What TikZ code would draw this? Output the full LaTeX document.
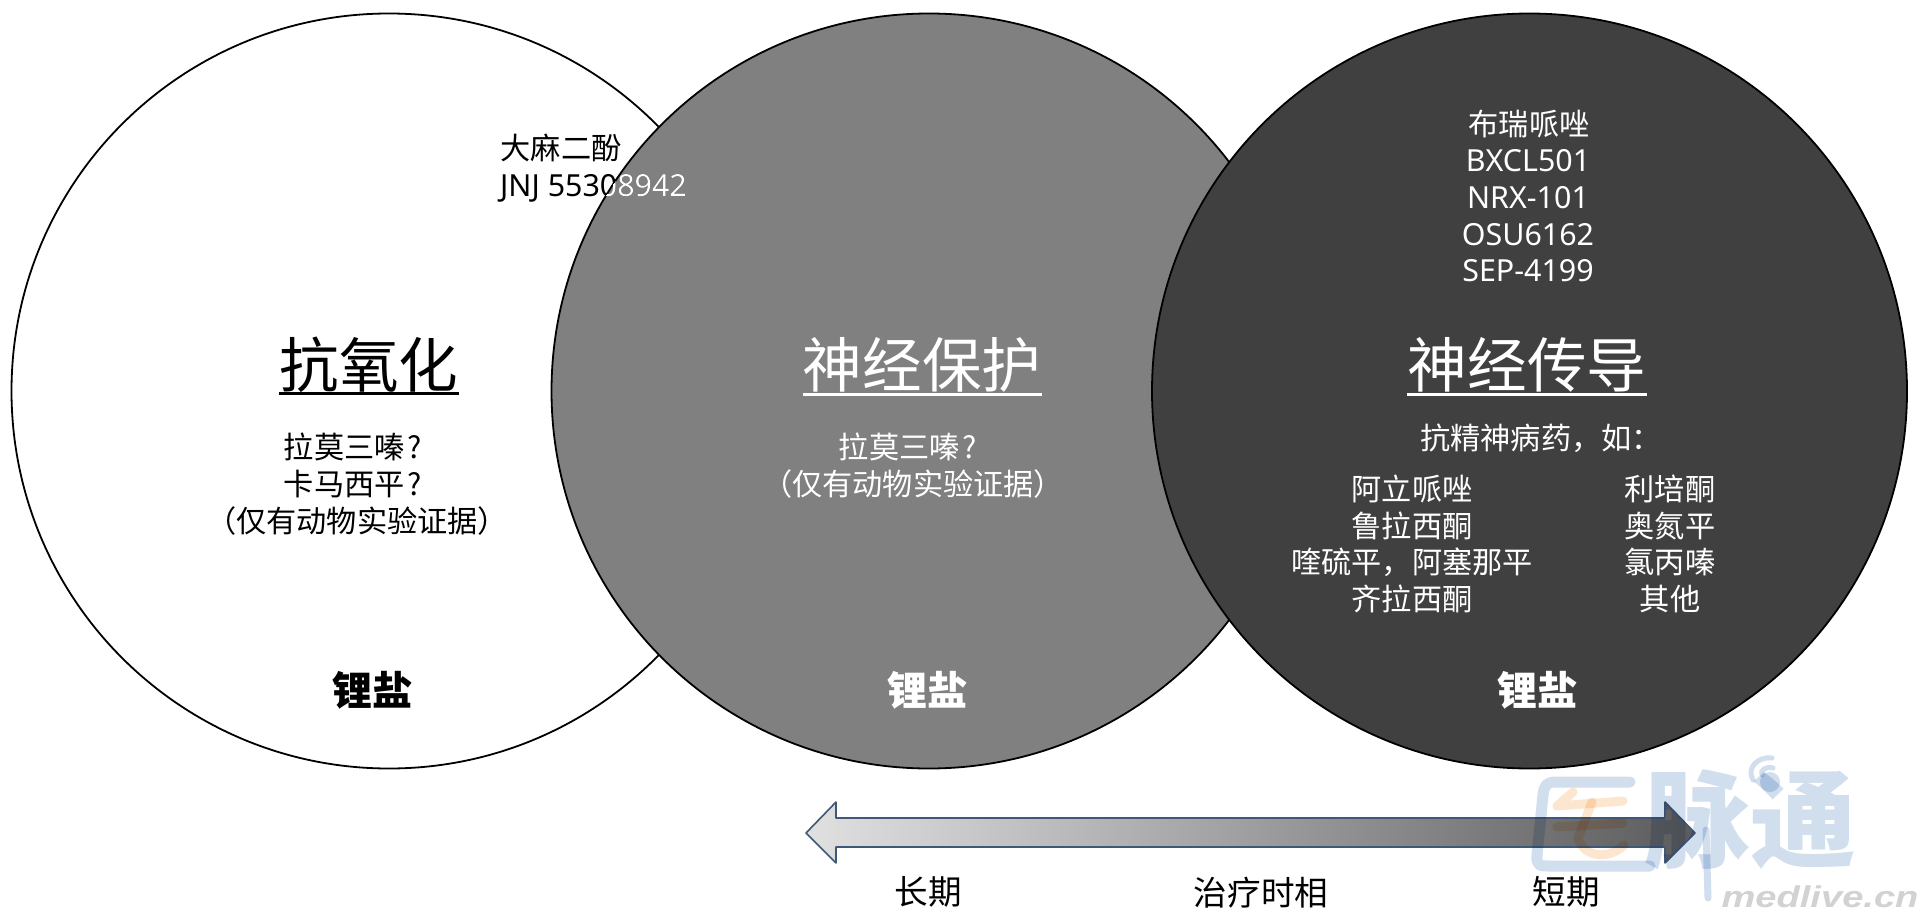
\documentclass[tikz,border=0pt]{standalone}
\usepackage{fontspec}
\setmainfont{Noto Sans CJK SC}
\newfontfamily\latinf{Noto Sans}
\newfontfamily\wmlatin{Liberation Sans}
\usetikzlibrary{arrows.meta}
\definecolor{wmblue}{HTML}{D0DEEE}
\definecolor{wmorange}{HTML}{FDE6CF}
\definecolor{wmgrey}{HTML}{D2D2D2}
\definecolor{arrowline}{HTML}{3F5878}
\tikzset{
  x=1pt,y=-1pt,
  disc/.style={draw=black,line width=1.8pt},
  body/.style={inner sep=0pt,align=center,font=\fontsize{30.2}{36.7}\selectfont},
  latin/.style={inner sep=0pt,align=center,font=\latinf\fontsize{30.4}{36.7}\selectfont},
  heading/.style={inner sep=0pt,font=\fontsize{59.6}{62}\selectfont},
  rule/.style={line width=3pt},
  salt/.style={inner sep=0pt,font=\fontsize{40}{41}\selectfont\bfseries},
  phase/.style={inner sep=0pt,font=\fontsize{33.6}{35}\selectfont},
  wmstroke/.style={draw=wmblue,line width=11pt,line cap=round,line join=round},
  wmo/.style={draw=wmorange,line width=9pt,line cap=round,line join=round},
  wmarc/.style={draw=wmblue,line width=5pt,line cap=round},
}
\begin{document}
\begin{tikzpicture}
\useasboundingbox (0,0) rectangle (1925,920);
\fill[white] (0,0) rectangle (1925,920);
% discs
\draw[disc,fill=white] (389,391) circle (377.5);
\draw[disc,fill=black!50] (929,391) circle (377.5);
\node[latin,text=black] (jnj) at (593.5,188) {JNJ 55308942};
\begin{scope}
\clip (929,391) circle (377.5);
\node[latin,text=white] (jnjB) at (593.5,188) {JNJ 55308942};
\end{scope}
\draw[disc,fill=black!75] (1529.5,391) circle (377.5);
% left disc text
\node[body] (cbd) at (561,148) {大麻二酚};
\node[heading] (h1) at (369,365) {抗氧化};
\draw[rule] (279,393) -- (459,393);
\node[body] (l1) at (357,484) {拉莫三嗪\hspace{3pt}?\hspace{8pt}\null\\卡马西平\hspace{3pt}?\hspace{8pt}\null\\（仅有动物实验证据）};
\node[salt] (s1) at (372,690) {锂盐};
% middle disc text
\node[heading,text=white] (h2) at (922,365) {神经保护};
\draw[rule,white] (803,394) -- (1042,394);
\node[body,text=white] (m1) at (913,466) {拉莫三嗪\hspace{3pt}?\hspace{10pt}\null\\（仅有动物实验证据）};
\node[salt,text=white] (s2) at (927,690) {锂盐};
% right disc text
\node[body,text=white] (r0) at (1529,124) {布瑞哌唑};
\node[latin,text=white] (r1) at (1528,216) {BXCL501\\NRX-101\\OSU6162\\SEP-4199};
\node[heading,text=white] (h3) at (1527,365) {神经传导};
\draw[rule,white] (1407,394) -- (1647,394);
\node[body,text=white] (r2) at (1541,438) {抗精神病药，如：};
\node[body,text=white] (r3) at (1412,544) {阿立哌唑\\鲁拉西酮\\喹硫平，阿塞那平\\齐拉西酮};
\node[body,text=white] (r4) at (1670,544) {利培酮\\奥氮平\\氯丙嗪\\其他};
\node[salt,text=white] (s3) at (1537,690) {锂盐};
% time arrow
\draw[arrowline,line width=1.6pt,line join=round,left color=black!12,right color=black!64,shading angle=90]
  (806,833) -- (836,802) -- (836,818) -- (1665,818) -- (1665,802) -- (1695,833)
  -- (1665,863) -- (1665,847) -- (836,847) -- (836,863) -- cycle;
\node[phase] (p1) at (928,892) {长期};
\node[phase] (p2) at (1261,893) {治疗时相};
\node[phase] (p3) at (1566,892) {短期};
% watermark
\begin{scope}[blend mode=multiply]
\draw[wmstroke] (1630,782) -- (1556,782) .. controls (1546,782) and (1544,786) .. (1543,795)
  -- (1537,855) .. controls (1536,866) and (1540,866) .. (1550,866) -- (1650,866);
\draw[wmo] (1573,792) -- (1557,806) -- (1623,801);
\draw[wmo] (1557,827) -- (1623,823);
\draw[wmo] (1592,802) -- (1578,838) .. controls (1585,860) and (1612,858) .. (1624,845);
\node[inner sep=0pt,text=wmblue,font=\fontsize{106}{108}\selectfont\bfseries] (wm) at (1750,820) {脉通};
\draw[wmblue,line width=7pt,line cap=round] (1706,830) -- (1708,898);
\draw[wmarc] (1753,780) .. controls (1746,768) and (1758,756) .. (1772,758);
\draw[wmarc] (1762,775) .. controls (1760,770) and (1766,766) .. (1773,768);
\fill[wmblue] (1770,782) circle (10);
\end{scope}
\node[inner sep=0pt,text=wmgrey,xscale=1.27,font=\wmlatin\fontsize{30}{32}\selectfont\bfseries\itshape] (wm2) at (1820,897) {medlive.cn};
\end{tikzpicture}
\end{document}
